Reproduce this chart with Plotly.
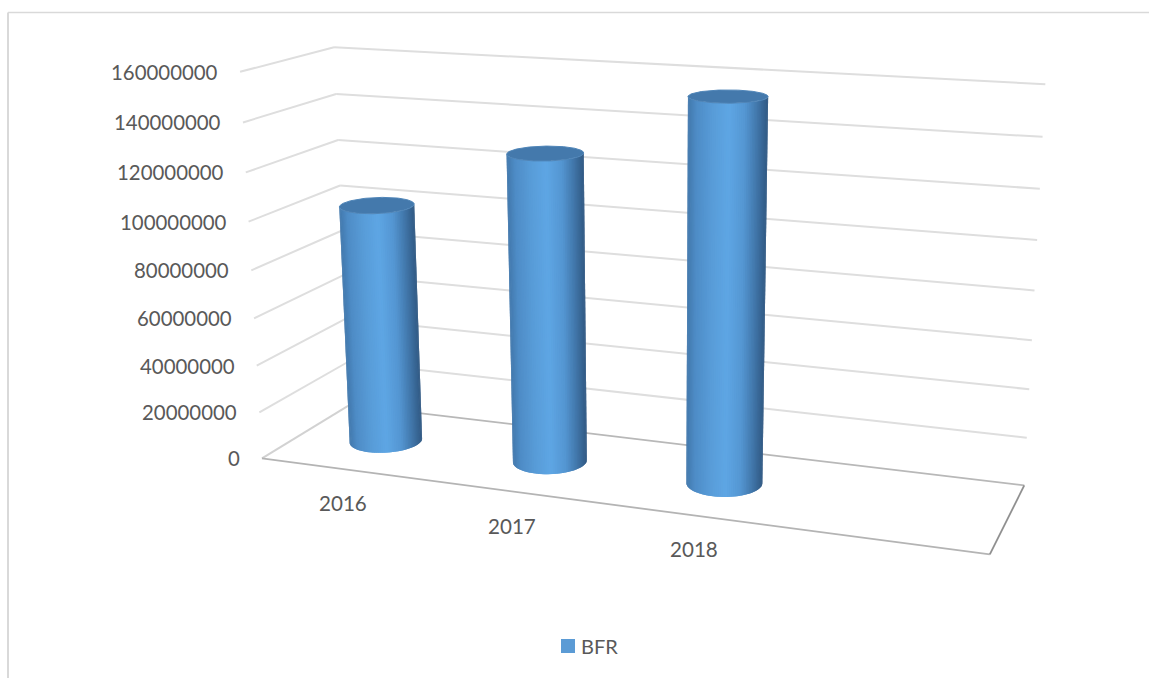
import numpy as np
import plotly.graph_objects as go

# Chart data
categories = ["2016", "2017", "2018"]
bfr_values = [101700000, 128200000, 154900000]
axis_ticks = [0, 20000000, 40000000, 60000000, 80000000, 100000000, 120000000, 140000000, 160000000]
series_name = "BFR"

AXIS_MAX = 160000000
SLOTS = 4               # the category axis leaves room for one empty slot
RADIUS_U, RADIUS_V = 0.05, 0.21

# Perspective camera: maps (u, v, w) in the unit chart box to page pixels
CAMERA = np.array([
    [606.074971, 117.56103, -34.45191, 261.969238],
    [27.7518719, -19.1414133, -390.4486523, 458.4685263],
    [-0.1230492, 0.0853212, -0.0523626, 1.0],
])


def project(u, v, w):
    """Project box coordinates to page x, y."""
    h = CAMERA @ np.vstack([np.ravel(u), np.ravel(v), np.ravel(w), np.ones(np.size(u))])
    return h[0] / h[2], h[1] / h[2]


def edge(a, b, **line):
    """One straight line between two box points, as a separate trace."""
    x, y = project(*np.array([a, b]).T)
    return go.Scatter(x=x, y=y, mode="lines", line=line, hoverinfo="skip", showlegend=False)


# Body shading, left to right across the visible side of a column
SHADE_STOPS = [0.0, 0.1, 0.3, 0.5, 0.7, 0.85, 1.0]
SHADE_RGB = np.array([
    [66, 120, 172], [78, 140, 198], [88, 156, 216], [94, 166, 228],
    [84, 150, 210], [66, 120, 172], [48, 88, 130],
])


def shade(t):
    r, g, b = (np.interp(t, SHADE_STOPS, SHADE_RGB[:, i]) for i in range(3))
    return f"rgb({r:.0f},{g:.0f},{b:.0f})"


def column(slot, value):
    """Cylinder for one category, painted as narrow vertical strips plus a lid."""
    uc = (slot + 0.5) / SLOTS
    w = value / AXIS_MAX
    th = np.linspace(0, 2 * np.pi, 241)[:-1]
    u = uc + RADIUS_U * np.cos(th)
    v = 0.5 + RADIUS_V * np.sin(th)
    xb, yb = project(u, v, np.zeros_like(u))
    xt, yt = project(u, v, np.full_like(u, w))
    # front arc runs from the leftmost to the rightmost base point through the lowest one
    left, right = int(np.argmin(xb)), int(np.argmax(xb))
    idx = []
    i = left
    step = 1 if yb[(left + 1) % th.size] > yb[(left - 1) % th.size] else -1
    while i != right:
        idx.append(i)
        i = (i + step) % th.size
    idx.append(right)
    traces = []
    span = xb[right] - xb[left]
    for a in range(0, len(idx) - 1, 2):
        seg = idx[a:a + 5]
        t = (xb[idx[a]] - xb[left]) / span
        px = np.r_[xb[seg], xt[seg][::-1], xb[seg[0]]]
        py = np.r_[yb[seg], yt[seg][::-1], yb[seg[0]]]
        traces.append(go.Scatter(x=px, y=py, mode="lines", fill="toself", fillcolor=shade(t),
                                 line=dict(width=0), hoverinfo="skip", showlegend=False))
    traces.append(go.Scatter(x=np.r_[xt, xt[0]], y=np.r_[yt, yt[0]], mode="lines", fill="toself",
                             fillcolor="#4479AC", line=dict(color="#4F85B8", width=1),
                             hoverinfo="skip", showlegend=False))
    return traces


fig = go.Figure()

GRID = dict(color="#DEDEDE", width=2)
# Wall gridlines, side wall then back wall
for tick in axis_ticks:
    w = tick / AXIS_MAX
    if tick:
        fig.add_trace(edge((0, 0, w), (0, 1, w), **GRID))
        fig.add_trace(edge((0, 1, w), (1, 1, w), **GRID))

# Floor outline
fig.add_trace(edge((0, 0, 0), (0, 1, 0), color="#D2D2D2", width=2))
fig.add_trace(edge((0, 1, 0), (1, 1, 0), color="#B8B8B8", width=1.8))
fig.add_trace(edge((0, 0, 0), (1, 0, 0), color="#B4B4B4", width=1.8))
fig.add_trace(edge((1, 0, 0), (1, 1, 0), color="#909090", width=1.8))

for slot, value in enumerate(bfr_values):
    for tr in column(slot, value):
        fig.add_trace(tr)

# Legend key for the single series
fig.add_trace(go.Scatter(x=[568], y=[646], mode="markers", name=series_name, hoverinfo="name",
                         showlegend=False, marker=dict(symbol="square", size=14, color="#5B9BD5")))

FONT = "Lato, Carlito, sans-serif"
TICK_FONT = dict(family=FONT, size=20.4, color="#595959")
CAT_FONT = dict(family=FONT, size=20.6, color="#595959")
KEY_FONT = dict(family=FONT, size=20, color="#595959")
annotations = []
for tick in axis_ticks:
    w = tick / AXIS_MAX
    x, y = project(0, 0, w)
    annotations.append(dict(x=x[0] - 20, y=y[0], text=str(tick), xanchor="right",
                            yanchor="middle", showarrow=False, font=TICK_FONT))
for slot, name in enumerate(categories):
    x, y = project((slot + 0.5) / SLOTS, 0, 0)
    annotations.append(dict(x=x[0] - 0.5, y=y[0] + 34, text=name, xanchor="center",
                            yanchor="middle", showarrow=False, font=CAT_FONT))
annotations.append(dict(x=579, y=646, text=series_name, xanchor="left", yanchor="middle",
                        showarrow=False, font=KEY_FONT))

fig.update_layout(
    width=1149, height=678, margin=dict(l=0, r=0, t=0, b=0),
    paper_bgcolor="white", plot_bgcolor="white", showlegend=False,
    xaxis=dict(range=[0, 1149], visible=False, fixedrange=True),
    yaxis=dict(range=[678, 0], visible=False, fixedrange=True),
    annotations=annotations,
    shapes=[
        dict(type="line", xref="paper", yref="paper", x0=8 / 1149, x1=1, y0=1 - 12.5 / 678, y1=1 - 12.5 / 678,
             line=dict(color="#D9D9D9", width=1.5)),
        dict(type="line", xref="paper", yref="paper", x0=8 / 1149, x1=8 / 1149, y0=0, y1=1 - 12.5 / 678,
             line=dict(color="#D9D9D9", width=2)),
    ],
)

fig.write_html("out.html")
